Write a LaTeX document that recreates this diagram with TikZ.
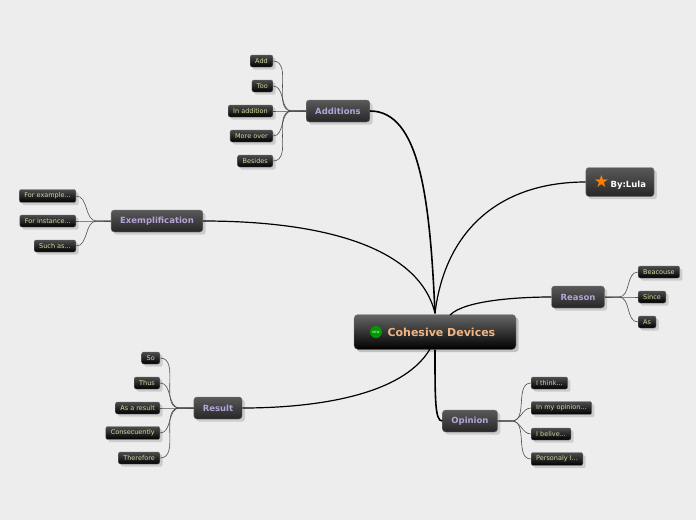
\documentclass[tikz,border=0pt]{standalone}
\usepackage{fontspec}
\setmainfont{DejaVu Sans}
\usetikzlibrary{shadows}
\definecolor{leaftext}{HTML}{D0DCA0}
\definecolor{branchtext}{HTML}{B4A4D8}
\definecolor{maintext}{HTML}{F2B684}
\tikzset{
  leaf/.style = {rounded corners=2pt, top color=black!70, bottom color=black,
                 draw=black!60, text=leaftext, font=\fontsize{6.5}{6.5}\selectfont,
                 inner xsep=5pt, minimum height=12pt, drop shadow={opacity=0.3}},
  branch/.style = {rounded corners=3pt, top color=black!65, bottom color=black!85,
                   draw=black!50, text=branchtext, font=\bfseries\fontsize{8.5}{9}\selectfont,
                   inner xsep=9pt, minimum height=22pt, drop shadow={opacity=0.3}},
  link/.style = {black, line width=#1},
  link/.default = 1.2pt,
  twig/.style = {black!70, line width=0.6pt}
}
\begin{document}
\begin{tikzpicture}[x=1pt,y=-1pt]
	\fill[black!7] (0,0) rectangle (696,520);
	\useasboundingbox (0,0) rectangle (696,520);

	% Center
	\node[rounded corners=4pt, top color=black!60, bottom color=black, draw=black!50,
	      minimum width=162pt, minimum height=35pt, drop shadow={opacity=0.4}] (main) at (435,332) {};
	\node[circle, fill=green!60!black, inner sep=0pt, minimum size=12pt,
	      text=white, font=\fontsize{3}{3}\selectfont] (newicon) at (376,332) {NEW};
	\node[text=maintext, font=\bfseries\fontsize{11}{11}\selectfont, anchor=west] (maintitle)
	      at (384,332) {Cohesive Devices};

	% Branches
	\node[branch] (add) at (338,111) {Additions};
	\node[branch] (exm) at (157,221) {Exemplification};
	\node[branch] (rea) at (578,297) {Reason};
	\node[branch] (res) at (218,408) {Result};
	\node[branch] (opi) at (470,421) {Opinion};
	\node[branch, text=white, minimum height=29pt, inner xsep=8pt] (by) at (620,182)
	      {\textcolor{orange}{\fontsize{17}{17}\selectfont\char"2605}\,By:Lula};

	% Links
	\draw[link=1.6pt] (main.north) ++(0,-1) .. controls (430,200) and (420,111) .. (add.east);
	\draw[link=1.2pt] (main.north) ++(0,-1) .. controls (420,250) and (330,221) .. (exm.east);
	\draw[link=1.2pt] (main.north) ++(0,-1) .. controls (445,230) and (500,182) .. (by.west);
	\draw[link=1.2pt] (450,315) .. controls (465,300) and (520,297) .. (rea.west);
	\draw[link=1.2pt] (430,349) .. controls (400,400) and (300,408) .. (res.east);
	\draw[link=1.6pt] (main.south) .. controls (435,400) and (435,421) .. (opi.west);

	% Additions
	\node[leaf, anchor=east] (add1) at (273,61) {Add};
	\node[leaf, anchor=east] (add2) at (273,86) {Too};
	\node[leaf, anchor=east] (add3) at (273,111) {In addition};
	\node[leaf, anchor=east] (add4) at (273,136) {More over};
	\node[leaf, anchor=east] (add5) at (273,161) {Besides};
	\foreach \i in {1,...,5}
	  \draw[twig] (add.west) -- ++(-14,0) to[out=180,in=0] (add\i.east);

	% Exemplification
	\node[leaf, anchor=east] (exm1) at (76,196) {For example...};
	\node[leaf, anchor=east] (exm2) at (76,221) {For instance...};
	\node[leaf, anchor=east] (exm3) at (76,246) {Such as...};
	\foreach \i in {1,...,3}
	  \draw[twig] (exm.west) -- ++(-14,0) to[out=180,in=0] (exm\i.east);

	% Reason
	\node[leaf, anchor=west] (rea1) at (638,272) {Beacouse};
	\node[leaf, anchor=west] (rea2) at (638,297) {Since};
	\node[leaf, anchor=west] (rea3) at (638,322) {As};
	\foreach \i in {1,...,3}
	  \draw[twig] (rea.east) -- ++(14,0) to[out=0,in=180] (rea\i.west);

	% Result
	\node[leaf, anchor=east] (res1) at (160,358) {So};
	\node[leaf, anchor=east] (res2) at (160,383) {Thus};
	\node[leaf, anchor=east] (res3) at (160,408) {As a result};
	\node[leaf, anchor=east] (res4) at (160,433) {Consecuently};
	\node[leaf, anchor=east] (res5) at (160,458) {Therefore};
	\foreach \i in {1,...,5}
	  \draw[twig] (res.west) -- ++(-14,0) to[out=180,in=0] (res\i.east);

	% Opinion
	\node[leaf, anchor=west] (opi1) at (531,383) {I think...};
	\node[leaf, anchor=west] (opi2) at (531,408) {In my opinion...};
	\node[leaf, anchor=west] (opi3) at (531,434) {I belive...};
	\node[leaf, anchor=west] (opi4) at (531,459) {Personaly I...};
	\foreach \i in {1,...,4}
	  \draw[twig] (opi.east) -- ++(14,0) to[out=0,in=180] (opi\i.west);
\end{tikzpicture}
\end{document}
